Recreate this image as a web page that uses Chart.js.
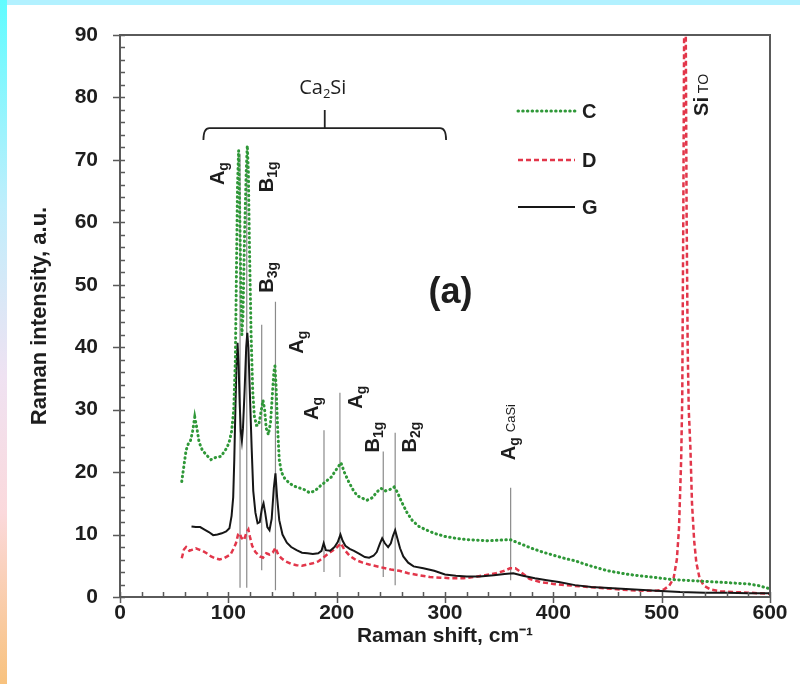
<!DOCTYPE html>
<html>
<head>
<meta charset="utf-8">
<title>Raman spectra</title>
<script src="https://cdn.jsdelivr.net/npm/chart.js@4.4.1/dist/chart.umd.min.js"></script>
<style>
  html, body { margin: 0; padding: 0; background: #fff; }
  canvas { display: block; }
</style>
</head>
<body>
<canvas id="raman" width="800" height="684"></canvas>
<script>
// Raman shift (cm-1) and intensity (a.u.) for each sample
const shiftC = [57,59,61,63,65,67,69,71,73,76,80,84,89,93,96,99,101,103,105,106.5,107.5,108.5,109.5,110.5,111.5,112.5,113.5,115,116.5,117.5,118.5,119.5,121,122.5,124,126,128,130,132,133.5,135,137,139,140.5,142,143,144,145.5,147,149,152,156,160,165,170,175,180,185,190,195,200,204,207,211,215,219,224,228,233,237,241,245,249,253,256,260,265,270,276,282,290,300,310,320,330,340,350,360,370,380,390,400,410,420,430,440,450,460,470,480,490,500,510,520,530,540,550,560,570,580,590,600];
const intensityC = [18.5,21,23.5,24.5,25,26.5,28.8,27,24.8,23.5,22.7,22,22.4,22.5,23.2,24,25,26.5,30,38,52,66,71.5,62,50,42,45,58,68,72.3,68,56,42,33,29,27.5,27.5,29.5,31.5,30,27,26,28,32,36,37,34,27,22,20,19,18.3,17.8,17.5,17.2,16.7,17,17.8,18.5,19.2,20.5,21.5,20,18.5,17.2,16.2,15.8,15.5,15.9,16.8,17.4,17,17.2,17.6,16.8,15.2,13.5,12.2,11.3,10.8,10.2,9.7,9.4,9.2,9.1,9.0,9.1,9.2,8.5,7.8,7.2,6.7,6.2,5.8,5.2,4.7,4.2,3.9,3.6,3.4,3.2,3.0,2.8,2.7,2.6,2.5,2.4,2.3,2.2,2.1,1.8,1.3];

const shiftD = [57,59,61,64,67,70,73,76,80,84,88,92,96,99,102,105,107,109,110.5,112,114.5,116.5,118.5,120,122,125,129,132,135,138,141,143.5,146,149,153,158,163,168,173,178,183,187.5,192,196,200,204,207,212,218,224,230,240,250,258,266,276,286,296,306,317,327,337,347,355,360,365,370,378,388,400,412,425,440,455,470,485,495,502,507,511,514,516,518,519,520,521,522,523,524,525,526.5,528,530,532,535,539,545,555,565,580,590,600];
const intensityD = [6.2,7.6,8,7.4,7.6,7.8,7.6,7.4,7,6.5,6.2,6.0,6.2,6.5,6.8,7.8,8.6,10,10.2,9.5,9.1,10.2,10.8,9.6,8.2,7.2,6.5,6.3,7,6.8,7.1,7.9,6.8,6.2,5.7,5.3,5.1,5.0,5.2,5.4,5.7,6.3,6.9,7.4,7.9,8.6,7.6,6.6,5.9,5.5,5.2,4.8,4.4,4.2,3.8,3.5,3.2,3.1,3.0,3.0,3.2,3.5,3.8,4.2,4.6,4.6,4.0,2.9,2.4,2.1,1.9,1.7,1.5,1.3,1.1,1.0,1.0,1.2,1.8,3,6,11,22,32,62,100,100,62,40,30,24,15,9,5.5,3,1.8,1.2,0.9,0.8,0.7,0.6,0.5];

const shiftG = [66,70,74,78,82,86,90,94,98,101,103,104.5,105.5,106.5,107.5,108.5,109.5,110.5,111.5,112.5,113.5,115,116.5,117.5,118.5,120,121.5,123,125,127,129,131,132.5,134,136,138,140,142,143.5,145,147,150,154,158,163,168,173,178,183,186,188,190,194,198,201,203.5,205.5,208,212,216,221,226,230,234,237,240,242,244.5,247.5,250,252,254,256,258.5,261.5,266,271,280,290,300,310,320,332,345,355,363,372,383,394,405,420,435,455,475,495,517,540,560,580,600];
const intensityG = [11.3,11.2,11.2,10.8,10.4,9.9,10.0,10.2,10.5,11,13,16,22,30,37,40.7,37,31,26.5,25,27,33,40,42.3,40,32,24,17,13.5,11.8,12,14.2,15,13.5,11.2,10.7,12.5,17.5,19.8,16,12.3,10,8.7,8,7.5,7.1,7,6.9,7,7.4,8.6,7.5,7.4,8,8.8,10,9,8.2,7.7,7.4,6.9,6.4,6.3,6.6,7.2,8.6,9.4,8.6,8,8.6,9.8,10.7,9.4,7.8,6.5,5.5,4.9,4.6,4.2,3.6,3.4,3.3,3.3,3.5,3.7,3.8,3.4,3.0,2.7,2.4,1.9,1.6,1.4,1.2,1.0,0.8,0.7,0.7,0.6,0.6];

// Axis tick values
const xTicks = [0,100,200,300,400,500,600];
const yTicks = [0,10,20,30,40,50,60,70,80,90];

// Assigned phonon modes: shift and the intensity span of the marker line
const modeShift = [110.8,117,130.8,143.5,188.3,203,243,254,360.6];
const modeFrom  = [1.5,1.5,4.3,1.1,4,3.2,3.2,1.9,2.7];
const modeTo    = [71,70,43.6,47.3,26.7,32.7,23.3,26.3,17.5];

const pts = (xs, ys) => xs.map((x, i) => ({ x, y: ys[i] }));

const FONT = '"Liberation Sans", Arial, sans-serif';
const INK = '#1e1e1e';

// Mode labels: [main, subscript, extra subscript] at data positions, rotated
const modeLabels = [
  { x: 89.5,  y: 67.8, main: 'A', sub: 'g' },
  { x: 134.5, y: 67.3, main: 'B', sub: '1g' },
  { x: 134.5, y: 51.2, main: 'B', sub: '3g' },
  { x: 162.5, y: 40.8, main: 'A', sub: 'g' },
  { x: 176.5, y: 30.2, main: 'A', sub: 'g' },
  { x: 217,   y: 32.0, main: 'A', sub: 'g' },
  { x: 232.5, y: 25.6, main: 'B', sub: '1g' },
  { x: 266.5, y: 25.6, main: 'B', sub: '2g' },
  { x: 358,   y: 26.4, main: 'A', sub: 'g', extra: 'CaSi' },
  { x: 536,   y: 80.4, main: 'Si', sub: 'TO', light: true }
];

function drawRotatedLabel(ctx, lbl, px, py) {
  ctx.save();
  ctx.translate(px, py);
  ctx.rotate(-Math.PI / 2);
  ctx.fillStyle = INK;
  ctx.textBaseline = 'alphabetic';
  const mainFont = 'bold 20px ' + FONT;
  const subFont = (lbl.light ? '' : 'bold ') + '14px ' + FONT;
  const extraFont = '13px ' + FONT;
  ctx.font = mainFont; const wm = ctx.measureText(lbl.main).width;
  ctx.font = subFont; const ws = ctx.measureText((lbl.light ? ' ' : '') + lbl.sub).width;
  let we = 0;
  if (lbl.extra) { ctx.font = extraFont; we = ctx.measureText(lbl.extra).width + 5; }
  let cx = -(wm + ws + we) / 2;
  ctx.font = mainFont; ctx.fillText(lbl.main, cx, 7); cx += wm;
  ctx.font = subFont; ctx.fillText((lbl.light ? ' ' : '') + lbl.sub, cx, lbl.light ? 7 : 11); cx += ws;
  if (lbl.extra) { ctx.font = extraFont; ctx.fillText(lbl.extra, cx + 5, 7); }
  ctx.restore();
}

const pageFrame = {
  id: 'pageFrame',
  beforeDraw(chart) {
    const { ctx, width, height } = chart;
    ctx.save();
    ctx.fillStyle = '#fff';
    ctx.fillRect(0, 0, width, height);
    const g = ctx.createLinearGradient(0, 0, 0, height);
    g.addColorStop(0, '#5ffcff');
    g.addColorStop(0.3, '#bfeefc');
    g.addColorStop(0.55, '#efe2f2');
    g.addColorStop(0.75, '#fbd9dc');
    g.addColorStop(1, '#f8c27e');
    ctx.fillStyle = g;
    ctx.fillRect(0, 0, 7, height);
    ctx.fillStyle = '#b2f1ff';
    ctx.fillRect(7, 0, width - 7, 5);
    ctx.restore();
  }
};

const modeMarkers = {
  id: 'modeMarkers',
  beforeDatasetsDraw(chart) {
    const { ctx, scales: { x, y } } = chart;
    ctx.save();
    ctx.strokeStyle = '#8a8a8a';
    ctx.lineWidth = 1.2;
    modeShift.forEach((s, i) => {
      const px = x.getPixelForValue(s);
      ctx.beginPath();
      ctx.moveTo(px, y.getPixelForValue(modeFrom[i]));
      ctx.lineTo(px, y.getPixelForValue(modeTo[i]));
      ctx.stroke();
    });
    ctx.restore();
  },
  afterDatasetsDraw(chart) {
    const { ctx, scales: { x, y } } = chart;
    modeLabels.forEach(l => drawRotatedLabel(ctx, l, x.getPixelForValue(l.x), y.getPixelForValue(l.y)));

    // Ca2Si bracket spanning its modes
    const L = x.getPixelForValue(77), R = x.getPixelForValue(301), C = x.getPixelForValue(189);
    const yh = y.getPixelForValue(75.1), ye = y.getPixelForValue(73.2), yc = y.getPixelForValue(78);
    ctx.save();
    ctx.strokeStyle = '#222';
    ctx.lineWidth = 1.8;
    ctx.beginPath();
    ctx.moveTo(L, ye); ctx.quadraticCurveTo(L, yh, L + 6, yh);
    ctx.lineTo(R - 6, yh); ctx.quadraticCurveTo(R, yh, R, ye);
    ctx.moveTo(C, yh); ctx.lineTo(C, yc);
    ctx.stroke();
    ctx.fillStyle = INK;
    ctx.textBaseline = 'alphabetic';
    ctx.font = '20px "Open Sans", sans-serif';
    const ca = 'Ca', si = 'Si';
    const wCa = ctx.measureText(ca).width, wSi = ctx.measureText(si).width;
    ctx.font = '13px "Open Sans", sans-serif';
    const w2 = ctx.measureText('2').width;
    const tx = C - 2 - (wCa + w2 + wSi) / 2, ty = y.getPixelForValue(81.7) + 7;
    ctx.font = '20px "Open Sans", sans-serif';
    ctx.fillText(ca, tx, ty);
    ctx.font = '13px "Open Sans", sans-serif';
    ctx.fillText('2', tx + wCa, ty + 4);
    ctx.font = '20px "Open Sans", sans-serif';
    ctx.fillText(si, tx + wCa + w2, ty);

    // panel letter
    ctx.font = 'bold 36px ' + FONT;
    ctx.textAlign = 'center';
    ctx.textBaseline = 'middle';
    ctx.fillText('(a)', x.getPixelForValue(305), y.getPixelForValue(48.7));
    ctx.restore();
  }
};

const legendBox = {
  id: 'legendBox',
  afterDraw(chart) {
    const { ctx } = chart;
    const rows = [111, 160, 207];
    ctx.save();
    chart.data.datasets.forEach((ds, i) => {
      ctx.beginPath();
      ctx.strokeStyle = ds.borderColor;
      ctx.lineWidth = ds.borderWidth;
      ctx.lineCap = ds.borderCapStyle || 'butt';
      ctx.setLineDash(ds.borderDash || []);
      ctx.moveTo(518, rows[i]);
      ctx.lineTo(575, rows[i]);
      ctx.stroke();
      ctx.setLineDash([]);
      ctx.fillStyle = INK;
      ctx.font = 'bold 20px ' + FONT;
      ctx.textBaseline = 'middle';
      ctx.fillText(ds.label, 582, rows[i] + 1);
    });
    ctx.restore();
  }
};

const axisFrame = {
  id: 'axisFrame',
  afterDraw(chart) {
    const { ctx, chartArea: a, scales: { x, y } } = chart;
    ctx.save();
    ctx.strokeStyle = '#5a5a5a';
    ctx.lineWidth = 2;
    ctx.beginPath();
    ctx.moveTo(a.left, a.top); ctx.lineTo(a.right, a.top); ctx.lineTo(a.right, a.bottom);
    ctx.stroke();
    ctx.lineWidth = 1.5;
    ctx.beginPath();
    for (let v = 0; v <= 90; v += 2) {
      const py = Math.round(y.getPixelForValue(v)) + 0.5;
      const major = yTicks.includes(v);
      ctx.moveTo(a.left - (major ? 7 : 0), py);
      ctx.lineTo(a.left + 5, py);
    }
    for (let v = 0; v <= 600; v += 20) {
      const px = Math.round(x.getPixelForValue(v)) + 0.5;
      const major = xTicks.includes(v);
      ctx.moveTo(px, a.bottom - 5);
      ctx.lineTo(px, a.bottom + (major ? 6 : 0));
    }
    ctx.stroke();
    ctx.restore();
  }
};

new Chart(document.getElementById('raman'), {
  type: 'line',
  data: {
    datasets: [
      { label: 'C', data: pts(shiftC, intensityC), borderColor: '#2f9838', borderWidth: 3,
        borderDash: [0.5, 4.2], borderCapStyle: 'round', pointRadius: 0, tension: 0, order: 1 },
      { label: 'D', data: pts(shiftD, intensityD), borderColor: '#e2364a', borderWidth: 2.5,
        borderDash: [5, 3], pointRadius: 0, tension: 0, order: 3 },
      { label: 'G', data: pts(shiftG, intensityG), borderColor: '#161616', borderWidth: 2,
        pointRadius: 0, tension: 0, order: 2 }
    ]
  },
  options: {
    responsive: false,
    animation: false,
    devicePixelRatio: 1,
    layout: { padding: { left: 0, right: 30, top: 35, bottom: 0 } },
    plugins: { legend: { display: false }, tooltip: { enabled: false } },
    scales: {
      x: {
        type: 'linear', min: 0, max: 600,
        afterBuildTicks: s => { s.ticks = xTicks.map(v => ({ value: v })); },
        ticks: { color: INK, font: { family: FONT, size: 21, weight: 'bold' }, padding: 4, maxRotation: 0 },
        grid: { display: false, drawTicks: false },
        border: { display: true, color: '#5a5a5a', width: 2 },
        title: { display: true, text: 'Raman shift, cm⁻¹', color: INK,
                 font: { family: FONT, size: 21, weight: 'bold' }, padding: { top: 0, bottom: 35 } },
        afterFit: s => { s.height = 87; }
      },
      y: {
        type: 'linear', min: 0, max: 90,
        afterBuildTicks: s => { s.ticks = yTicks.map(v => ({ value: v })); },
        ticks: { color: INK, font: { family: FONT, size: 21, weight: 'bold' }, padding: 22 },
        grid: { display: false, drawTicks: false },
        border: { display: true, color: '#5a5a5a', width: 2 },
        title: { display: true, text: 'Raman intensity, a.u.', color: INK,
                 font: { family: FONT, size: 22, weight: 'bold' }, padding: { top: 27, bottom: 0 } },
        afterFit: s => { s.width = 120; }
      }
    }
  },
  plugins: [pageFrame, modeMarkers, legendBox, axisFrame]
});
</script>
</body>
</html>
